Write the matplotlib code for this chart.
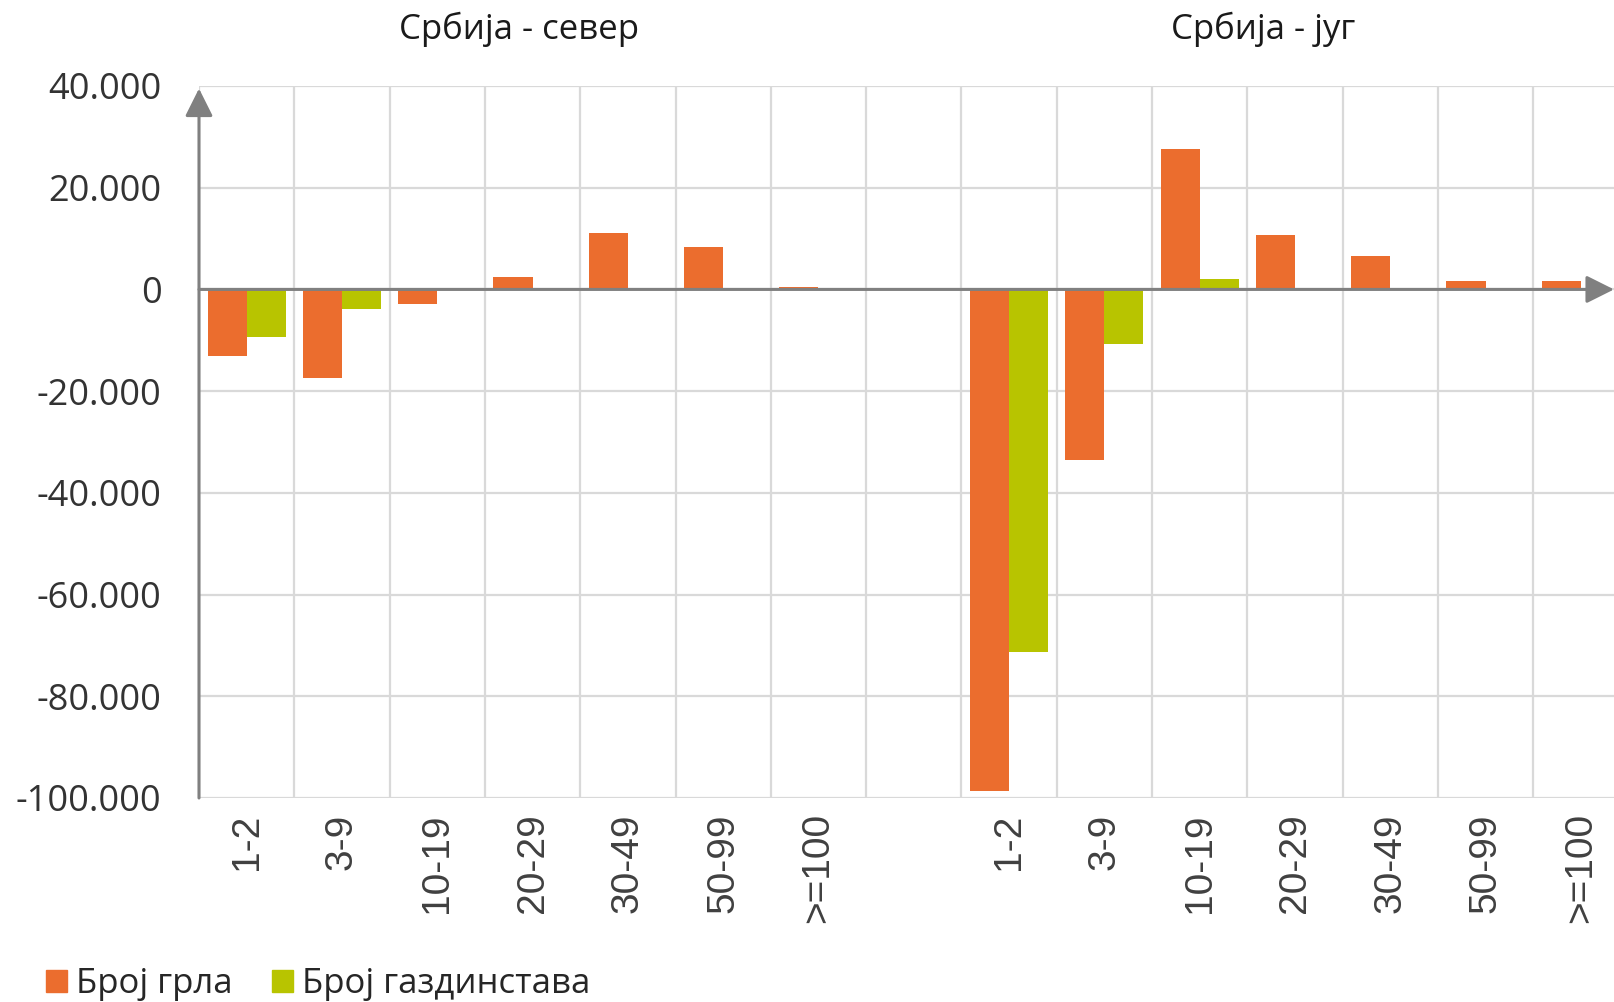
import matplotlib
matplotlib.use("Agg")
import matplotlib.pyplot as plt
from matplotlib.patches import Patch
from matplotlib.ticker import FuncFormatter, FixedLocator
import numpy as np

# data
categories = ['1-2', '3-9', '10-19', '20-29', '30-49', '50-99', '>=100']
groups = ['Србија - север', 'Србија - југ']
series = ['Број грла', 'Број газдинстава']

north_grla = [-13000, -17400, -2950, 2400, 11000, 8400, 500]
north_gazd = [-9400, -3800, 0, 0, 0, 0, 0]
south_grla = [-98700, -33600, 27700, 10700, 6600, 1700, 1700]
south_gazd = [-71300, -10700, 2100, 300, 0, 0, 0]

y_ticks = [-100000, -80000, -60000, -40000, -20000, 0, 20000, 40000]

ORANGE = '#EB6D2E'
GREEN = '#B8C400'
GRID = '#D9D9D9'
AXIS = '#808080'
TEXT = '#404040'

W, H = 1614, 1002
fig = plt.figure(figsize=(W / 100, H / 100), dpi=100)

# plot area in pixels (the reference crops the right end of the chart)
slot = 95.3
left_px, top_px, bottom_px = 199, 86, 798
n_slots = 2 * len(categories) + 1
ax = fig.add_axes([left_px / W, 1 - bottom_px / H,
                   n_slots * slot / W, (bottom_px - top_px) / H])

n = len(categories)
pos_north = np.arange(n) + 0.5
pos_south = np.arange(n) + n + 1.5
bw = 0.41

ax.bar(pos_north - bw / 2, north_grla, bw, color=ORANGE, zorder=3)
ax.bar(pos_north + bw / 2, north_gazd, bw, color=GREEN, zorder=3)
ax.bar(pos_south - bw / 2, south_grla, bw, color=ORANGE, zorder=3)
ax.bar(pos_south + bw / 2, south_gazd, bw, color=GREEN, zorder=3)

ax.set_xlim(0, n_slots)
ax.set_ylim(y_ticks[0], y_ticks[-1])

for s in ax.spines.values():
    s.set_visible(False)

# grid: horizontal at value ticks, vertical at slot boundaries
ax.set_yticks(y_ticks)
ax.yaxis.set_major_formatter(FuncFormatter(lambda v, p: f"{v:,.0f}".replace(',', '.')))
ax.xaxis.set_minor_locator(FixedLocator(np.arange(0, n_slots + 1)))
ax.set_xticks(np.concatenate([pos_north, pos_south]))
ax.set_xticklabels(categories + categories, rotation=90, va='top', ha='center',
                   family='Liberation Sans', fontsize=28, color=TEXT)
ax.grid(axis='y', which='major', color=GRID, lw=1.6, zorder=0)
ax.grid(axis='x', which='minor', color=GRID, lw=1.6, zorder=0)
ax.tick_params(axis='x', which='both', length=0, pad=11)
ax.tick_params(axis='y', length=0, pad=27, labelsize=26, labelcolor='#333333')
for lab in ax.get_yticklabels():
    lab.set_family('Open Sans')

# axes with arrows
arrow = dict(arrowstyle='-|>,head_length=1.0,head_width=0.5', mutation_scale=17,
             color=AXIS, lw=2.2, shrinkA=0, shrinkB=0)
ax.annotate('', xy=(0, y_ticks[-1] - 500), xytext=(0, y_ticks[0]),
            xycoords='data', textcoords='data', arrowprops=arrow,
            annotation_clip=False, zorder=5)
ax.annotate('', xy=(1.0, 0), xytext=(0, 0),
            xycoords=('figure fraction', 'data'),
            textcoords=('axes fraction', 'data'),
            arrowprops=arrow, annotation_clip=False, zorder=5)

# group titles
fig.text(519 / W, 1 - 29 / H, groups[0], ha='center', va='center',
         family='Open Sans', fontsize=25, color='#1a1a1a')
fig.text(1263 / W, 1 - 29 / H, groups[1], ha='center', va='center',
         family='Open Sans', fontsize=25, color='#1a1a1a')

handles = [Patch(color=ORANGE), Patch(color=GREEN)]
fig.legend(handles, series, loc='center left', bbox_to_anchor=(15 / W, 1 - 984 / H),
           ncol=2, frameon=False, handlelength=0.6, handleheight=0.6,
           handletextpad=0.25, columnspacing=1.15,
           prop={'family': 'Open Sans', 'size': 25}, labelcolor='#262626')

fig.savefig('out.png', dpi=100)
